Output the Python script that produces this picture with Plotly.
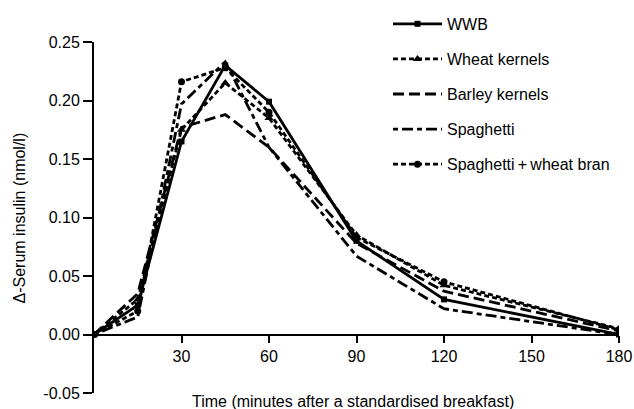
import plotly.graph_objects as go

times = [0, 15, 30, 45, 60, 90, 120, 180]
wwb = [0, 0.025, 0.165, 0.230, 0.199, 0.080, 0.030, 0.000]
wheat_kernels = [0, 0.030, 0.175, 0.215, 0.185, 0.085, 0.042, 0.005]
barley_kernels = [0, 0.035, 0.177, 0.188, 0.160, 0.078, 0.037, 0.003]
spaghetti = [0, 0.015, 0.197, 0.233, 0.160, 0.067, 0.022, 0.000]
spaghetti_bran = [0, 0.020, 0.216, 0.228, 0.190, 0.083, 0.045, 0.004]

names = ["WWB", "Wheat kernels", "Barley kernels", "Spaghetti",
         "Spaghetti\u2009+\u2009wheat bran"]
series = [wwb, wheat_kernels, barley_kernels, spaghetti, spaghetti_bran]
dashes = ["solid", "5px,3px", "11px,5px", "5px,4px,11px,4px", "5px,3px"]
symbols = ["square", "triangle-up", None, None, "circle"]
msizes = [6, 8, 0, 0, 7]

ytickvals = [-0.05, 0.0, 0.05, 0.10, 0.15, 0.20, 0.25]
yticktext = ["-0.05", "0.00", "0.05", "0.10", "0.15", "0.20", "0.25"]
xtickvals = [30, 60, 90, 120, 150, 180]

fig = go.Figure()
for i, (nm, ys) in enumerate(zip(names, series)):
    mode = "lines+markers" if symbols[i] else "lines"
    tr = dict(x=times, y=ys, name=nm, mode=mode, legendgroup=nm,
              line=dict(color="black", width=2.8, dash=dashes[i]))
    if symbols[i]:
        tr["marker"] = dict(symbol=symbols[i], size=msizes[i], color="black")
    fig.add_trace(go.Scatter(**tr))

font = "Liberation Sans, Arial, sans-serif"
fig.update_layout(
    width=634, height=409,
    margin=dict(l=94, r=15, t=42, b=16, autoexpand=False),
    paper_bgcolor="white", plot_bgcolor="white",
    font=dict(family=font, size=16, color="black"),
    showlegend=True,
    legend=dict(x=0.56, y=1.1, xanchor="left", yanchor="top",
                traceorder="grouped", tracegroupgap=11.3, itemwidth=49,
                font=dict(size=16), bgcolor="rgba(0,0,0,0)"),
    xaxis=dict(range=[0, 180], anchor="free", position=1/6, automargin=False,
               showline=True, linecolor="black", linewidth=2,
               ticks="outside", ticklen=7, tickwidth=2, tickcolor="black",
               tickvals=xtickvals, showgrid=False, zeroline=False),
    yaxis=dict(range=[-0.05, 0.25], domain=[0, 1], automargin=False,
               showline=True, linecolor="black", linewidth=2,
               ticks="outside", ticklen=9, tickwidth=2, tickcolor="black",
               tickvals=ytickvals, ticktext=yticktext,
               showgrid=False, zeroline=False),
    annotations=[
        dict(text="Time (minutes after a standardised breakfast)",
             x=0.494, y=-0.024, xref="paper", yref="paper",
             xanchor="center", yanchor="middle",
             showarrow=False, font=dict(size=16)),
        dict(text="\u0394-Serum insulin (nmol/l)",
             x=-0.141, y=0.5, xref="paper", yref="paper", textangle=-90,
             xanchor="center", yanchor="middle",
             showarrow=False, font=dict(size=16)),
    ],
)
fig.write_html("out.html", config={"displayModeBar": False},
               post_script="document.body.style.margin='0';"
                           "document.body.style.overflow='hidden';")
